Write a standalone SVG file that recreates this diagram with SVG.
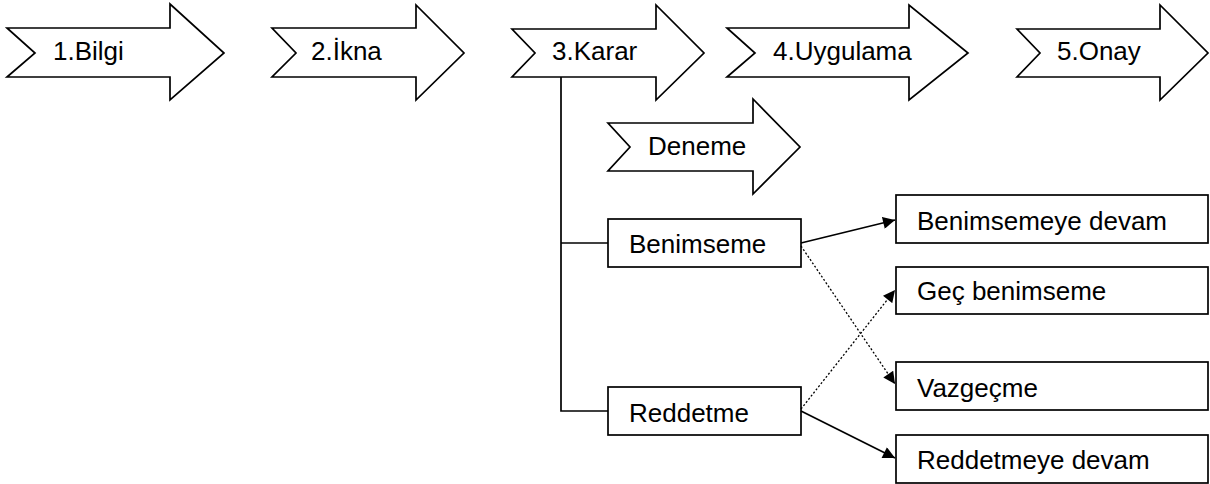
<svg xmlns="http://www.w3.org/2000/svg" width="1210" height="484" viewBox="0 0 1210 484">
<style>
.shape{fill:#fff;stroke:#000;stroke-width:1.7;stroke-linejoin:miter}
.t{font-family:"Liberation Sans",Arial,sans-serif;font-size:26px;fill:#000}
.c{fill:none;stroke:#000;stroke-width:1.7}
.d{fill:none;stroke:#000;stroke-width:1.3;stroke-dasharray:2 2}
</style>
<defs>
<marker id="ah" viewBox="0 0 10 10" refX="10" refY="5" markerWidth="13" markerHeight="12" markerUnits="userSpaceOnUse" orient="auto">
<path d="M0,0 L10,5 L0,10 Z" fill="#000"/>
</marker>
</defs>
<g id="n1"><path class="shape" d="M7,28 L170,28 L170,4 L224,53 L170,100 L170,77 L7,77 L35,53 Z"/><text class="t" x="53" y="60">1.Bilgi</text></g>
<g id="n2"><path class="shape" d="M272,28 L416,28 L416,5 L464,53 L416,100 L416,77 L272,77 L296,53 Z"/><text class="t" x="311" y="60">2.İkna</text></g>
<g id="n3"><path class="shape" d="M512,29 L656,29 L656,5 L704,53 L656,100 L656,77 L512,77 L535,53 Z"/><text class="t" x="552" y="60">3.Karar</text></g>
<g id="n4"><path class="shape" d="M727,28 L909,28 L909,5 L968,53 L909,100 L909,77 L727,77 L755,53 Z"/><text class="t" x="773" y="60">4.Uygulama</text></g>
<g id="n5"><path class="shape" d="M1017,29 L1160,29 L1160,5 L1208,53 L1160,100 L1160,77 L1017,77 L1040,53 Z"/><text class="t" x="1057" y="60">5.Onay</text></g>
<g id="deneme"><path class="shape" d="M608,123 L753,123 L753,99 L800,147 L753,194 L753,171 L608,171 L630,147 Z"/><text class="t" x="648" y="155">Deneme</text></g>
<g id="benimseme"><rect class="shape" x="608" y="219" width="193" height="48"/><text class="t" x="629" y="253">Benimseme</text></g>
<g id="reddetme"><rect class="shape" x="608" y="387" width="193" height="48"/><text class="t" x="629" y="422">Reddetme</text></g>
<g id="benimsemeye-devam"><rect class="shape" x="896" y="195" width="312" height="48"/><text class="t" x="917" y="230">Benimsemeye devam</text></g>
<g id="gec-benimseme"><rect class="shape" x="896" y="267" width="312" height="47"/><text class="t" x="917" y="300">Geç benimseme</text></g>
<g id="vazgecme"><rect class="shape" x="896" y="362" width="312" height="48"/><text class="t" x="917" y="397">Vazgeçme</text></g>
<g id="reddetmeye-devam"><rect class="shape" x="896" y="435" width="312" height="48"/><text class="t" x="917" y="469">Reddetmeye devam</text></g>
<g id="connectors">
<path class="c" d="M561,77 L561,411 L608,411"/>
<path class="c" d="M561,243 L608,243"/>
<path class="c" d="M801,243 L895,220" marker-end="url(#ah)"/>
<path class="c" d="M801,411 L895,458" marker-end="url(#ah)"/>
<path class="d" d="M801,246 L895,384" marker-end="url(#ah)"/>
<path class="d" d="M801,409 L895,290" marker-end="url(#ah)"/>
</g>
</svg>
